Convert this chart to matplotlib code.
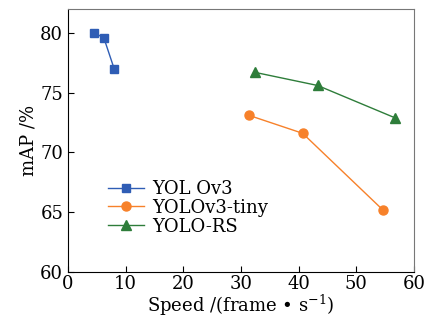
import matplotlib
matplotlib.use("Agg")
import matplotlib.pyplot as plt

# Speed (frame/s) and mAP (%) for each model
yolov3_speed = [4.5, 6.2, 8.0]
yolov3_map = [80.0, 79.6, 77.0]
tiny_speed = [31.4, 40.7, 54.6]
tiny_map = [73.1, 71.6, 65.2]
rs_speed = [32.4, 43.3, 56.7]
rs_map = [76.7, 75.6, 72.9]
labels = ["YOL Ov3", "YOLOv3-tiny", "YOLO-RS"]

plt.rcParams['font.family'] = ['DejaVu Serif']
plt.rcParams['mathtext.fontset'] = 'dejavuserif'

fig = plt.figure(figsize=(4.28, 3.2), dpi=100)
ax = fig.add_axes([0.159, 0.15, 0.808, 0.822])

ax.plot(yolov3_speed, yolov3_map, '-s', color='#2F5DB5', markersize=6, lw=1.0, label=labels[0])
ax.plot(tiny_speed, tiny_map, '-o', color='#F7812A', markersize=6.5, lw=1.0, label=labels[1])
ax.plot(rs_speed, rs_map, '-^', color='#2E7D3A', markersize=7, lw=1.0, label=labels[2])

ax.set_xlim(0, 60)
ax.set_ylim(60, 82)
ax.set_xticks([0, 10, 20, 30, 40, 50, 60])
ax.set_yticks([60, 65, 70, 75, 80])
ax.tick_params(direction='in', labelsize=13, length=4, width=0.8)
ax.tick_params(axis='x', pad=2)

for s in ['top', 'right']:
    ax.spines[s].set_color('#777777')
for s in ['left', 'bottom']:
    ax.spines[s].set_color('black')

ax.set_xlabel(r'Speed /(frame • s$^{-1}$)', fontsize=13, labelpad=0)
ax.set_ylabel('mAP /%', fontsize=13, labelpad=2)

ax.legend(loc='lower left', bbox_to_anchor=(0.08, 0.09), frameon=False, fontsize=13,
          handlelength=2.0, labelspacing=0.05, borderpad=0.2, handletextpad=0.4)

fig.savefig('out.png', dpi=100)
